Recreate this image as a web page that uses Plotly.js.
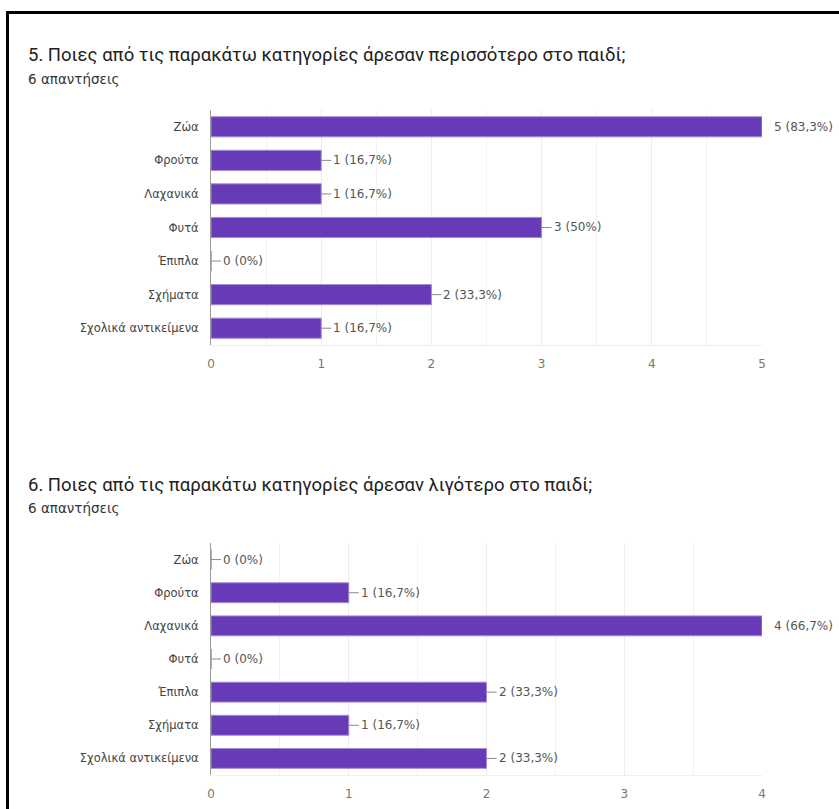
<!DOCTYPE html>
<html>
<head>
<meta charset="utf-8">
<script src="https://cdn.plot.ly/plotly-3.0.1.min.js"></script>
<style>
html,body{margin:0;padding:0;background:#fff;}
#chart{width:839px;height:809px;}
</style>
</head>
<body>
<div id="chart"></div>
<script>
const categories = ['Ζώα','Φρούτα','Λαχανικά','Φυτά','Έπιπλα','Σχήματα','Σχολικά αντικείμενα'];
const values1 = [5,1,1,3,0,2,1];
const labels1 = ['5 (83,3%)','1 (16,7%)','1 (16,7%)','3 (50%)','0 (0%)','2 (33,3%)','1 (16,7%)'];
const values2 = [0,1,4,0,2,1,2];
const labels2 = ['0 (0%)','1 (16,7%)','4 (66,7%)','0 (0%)','2 (33,3%)','1 (16,7%)','2 (33,3%)'];
const title1 = '5. Ποιες από τις παρακάτω κατηγορίες άρεσαν περισσότερο στο παιδί;';
const title2 = '6. Ποιες από τις παρακάτω κατηγορίες άρεσαν λιγότερο στο παιδί;';
const subtitle = '6 απαντήσεις';
const xTicks1 = [0,1,2,3,4,5];
const xTicks2 = [0,1,2,3,4];

const W = 839, H = 809;
const TFONT = 'Roboto, Arial, sans-serif';
const FONT = '"DejaVu Sans", Verdana, sans-serif';
const PURPLE = '#673ab7';

function barTrace(vals, xa, ya){
  return {
    type:'bar', orientation:'h', x: vals, y: categories,
    xaxis: xa, yaxis: ya,
    marker:{color: PURPLE, line:{color:'#a58ad6', width:1}},
    width: 0.6, hoverinfo:'skip', showlegend:false
  };
}

function labelAnns(vals, labels, xref, yref){
  const mx = Math.max(...vals);
  return vals.map((v,i)=>({
    x: v, y: categories[i], xref: xref, yref: yref,
    text: labels[i], showarrow: true, arrowhead: 0, arrowwidth: 1,
    arrowcolor: v === mx ? 'rgba(0,0,0,0)' : '#8a8a8a',
    ax: 10, ay: 0, standoff: 0, xanchor: 'left',
    font:{family: FONT, size: 12, color:'#555'}
  }));
}

function yAxis(domain){
  return {
    domain: domain, type:'category', categoryorder:'array', categoryarray: categories,
    autorange:'reversed', showgrid:false, zeroline:false,
    showline:true, linecolor:'#9a9a9a', linewidth:1,
    ticks:'', ticklabelstandoff: 9,
    tickfont:{family: FONT, size: 11.5, color:'#444'}, fixedrange:true
  };
}
function xAxis(domain, rng, ticks, anchor){
  return {
    domain: domain, range: rng, anchor: anchor, tickvals: ticks,
    showgrid:true, gridcolor:'#ececec', gridwidth:1, zeroline:false,
    showline:true, linecolor:'#efefef',
    minor:{dtick:0.5, showgrid:true, gridcolor:'#f2f2f2', gridwidth:1},
    ticks:'', ticklabelstandoff: 8,
    tickfont:{family: FONT, size: 12, color:'#777'}, fixedrange:true
  };
}

const xDom = [211/W, 762/W];
const y1Dom = [1-345/H, 1-110/H];
const y2Dom = [1-775/H, 1-543/H];

const data = [barTrace(values1,'x','y'), barTrace(values2,'x2','y2')];

const textAnns = [
  {text: title1, x: 26/W, y: 1-55/H, xref:'paper', yref:'paper', xanchor:'left', yanchor:'middle', showarrow:false, font:{family:TFONT, size:18.5, color:'#212121'}},
  {text: subtitle, x: 26/W, y: 1-79/H, xref:'paper', yref:'paper', xanchor:'left', yanchor:'middle', showarrow:false, font:{family:FONT, size:13.5, color:'#333'}},
  {text: title2, x: 26/W, y: 1-485/H, xref:'paper', yref:'paper', xanchor:'left', yanchor:'middle', showarrow:false, font:{family:TFONT, size:18.5, color:'#212121'}},
  {text: subtitle, x: 26/W, y: 1-508/H, xref:'paper', yref:'paper', xanchor:'left', yanchor:'middle', showarrow:false, font:{family:FONT, size:13.5, color:'#333'}}
];

const layout = {
  width: W, height: H, margin:{l:0,r:0,t:0,b:0},
  paper_bgcolor:'#fff', plot_bgcolor:'#fff',
  bargap: 0.4,
  xaxis: xAxis(xDom, [0,5], xTicks1, 'y'),
  yaxis: yAxis(y1Dom),
  xaxis2: xAxis(xDom, [0,4], xTicks2, 'y2'),
  yaxis2: yAxis(y2Dom),
  annotations: textAnns.concat(labelAnns(values1, labels1, 'x', 'y'), labelAnns(values2, labels2, 'x2', 'y2')),
  shapes: [
    {type:'line', xref:'paper', yref:'paper', x0: 7/W, x1: 1, y0: 1-12.5/H, y1: 1-12.5/H, line:{color:'#000', width:3}},
    {type:'line', xref:'paper', yref:'paper', x0: 7.5/W, x1: 7.5/W, y0: 0, y1: 1-11/H, line:{color:'#000', width:3}}
  ]
};

Plotly.newPlot('chart', data, layout, {displayModeBar:false, staticPlot:true});
</script>
</body>
</html>
